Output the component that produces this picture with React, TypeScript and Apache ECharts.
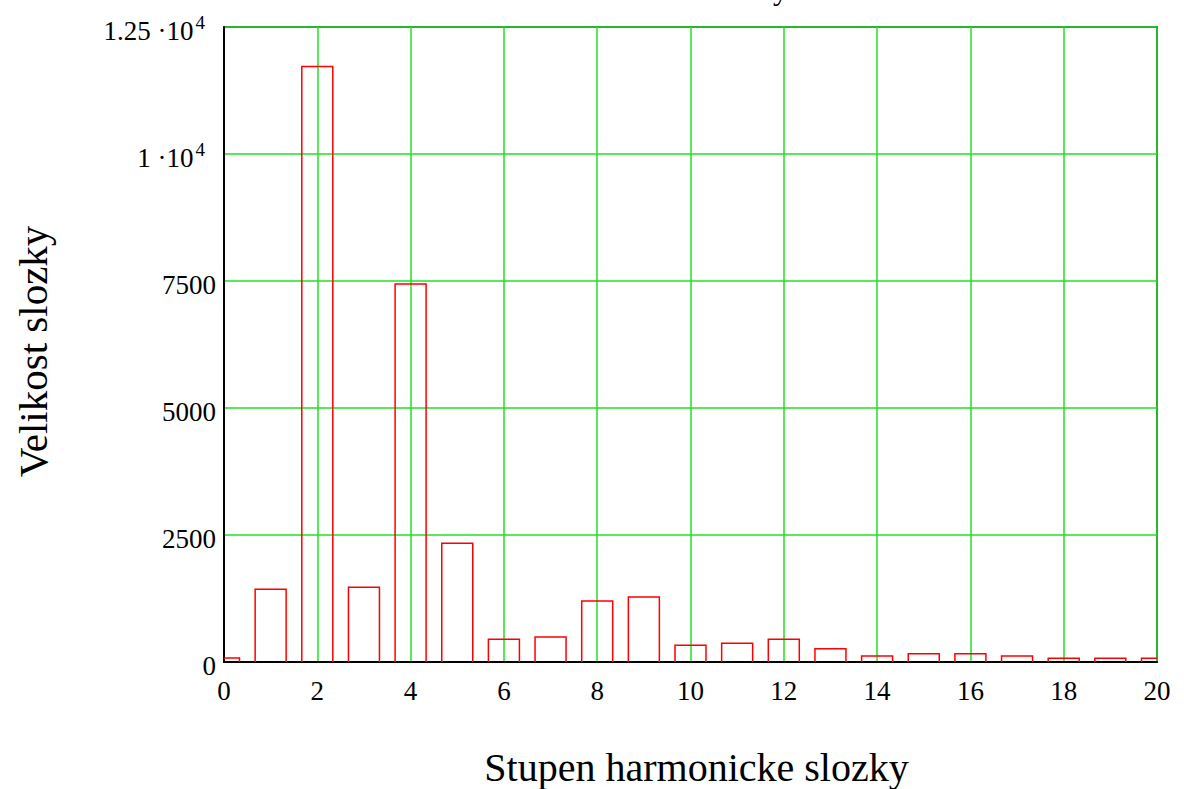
import React, { useEffect, useRef } from "react";
import * as echarts from "echarts";

const harmonics: number[] = [0, 1, 2, 3, 4, 5, 6, 7, 8, 9, 10, 11, 12, 13, 14, 15, 16, 17, 18, 19, 20];
const magnitudes: number[] = [80, 1430, 11720, 1470, 7440, 2340, 450, 490, 1200, 1280, 330, 370, 450, 262, 118, 163, 163, 118, 73, 73, 73];
const yTicks: number[] = [0, 2500, 5000, 7500, 10000, 12500];

const FONT = "'Liberation Serif', 'DejaVu Serif', serif";
const BAR_PX = 31;

export default function App() {
  const ref = useRef<HTMLDivElement>(null);
  useEffect(() => {
    if (!ref.current) return;
    const chart = echarts.init(ref.current, null, { renderer: "svg" });
    const data = harmonics.map((h, i) => [h, magnitudes[i]]);
    chart.setOption({
      animation: false,
      backgroundColor: "#ffffff",
      grid: {
        left: 224,
        right: 27,
        top: 27,
        bottom: 127,
        containLabel: false,
        outerBoundsMode: "none",
        show: true,
        borderColor: "#000000",
        borderWidth: 1.5,
        backgroundColor: "transparent",
      },
      graphic: [
        {
          type: "text",
          right: 1184 - 788,
          top: -26,
          style: {
            text: "Harmonicke slozky",
            font: `30px ${FONT}`,
            fill: "#000000",
          },
        },
      ],
      xAxis: {
        type: "value",
        min: 0,
        max: 20,
        interval: 2,
        name: "Stupen harmonicke slozky",
        nameLocation: "middle",
        nameGap: 85,
        nameTextStyle: { fontFamily: FONT, fontSize: 40, color: "#000000", padding: [0, 0, 0, 12] },
        axisLine: { show: true, lineStyle: { color: "#000000", width: 2 } },
        axisTick: { show: false },
        axisLabel: { fontFamily: FONT, fontSize: 27, color: "#000000", margin: 15 },
        splitLine: { show: true, lineStyle: { color: "#22e022", width: 1.5 } },
      },
      yAxis: {
        type: "value",
        min: 0,
        max: 12500,
        interval: 2500,
        name: "Velikost slozky",
        nameLocation: "middle",
        nameGap: 171,
        nameRotate: 90,
        nameTextStyle: { fontFamily: FONT, fontSize: 41, color: "#000000", padding: [0, 14, 0, 0] },
        axisLine: { show: true, lineStyle: { color: "#000000", width: 2 } },
        axisTick: { show: false },
        axisLabel: {
          fontFamily: FONT,
          fontSize: 27,
          color: "#000000",
          margin: 8,
          padding: [7, 0, 0, 0],
          formatter: (v: number) => {
            if (!yTicks.includes(v)) return "";
            if (v === 10000) return "1 ·10{sup|4}{gap|}";
            if (v === 12500) return "1.25 ·10{sup|4}{gap|}";
            return String(v);
          },
          rich: {
            sup: { fontFamily: FONT, fontSize: 19, color: "#000000", verticalAlign: "bottom", padding: [0, 0, 17, 2] },
            gap: { width: 11 },
          },
        },
        splitLine: { show: true, lineStyle: { color: "#22e022", width: 1.5 } },
      },
      series: [
        {
          type: "custom",
          data,
          clip: true,
          renderItem: (params: any, api: any) => {
            const x = api.value(0);
            const y = api.value(1);
            const base = api.coord([x, 0]);
            const top = api.coord([x, y]);
            const cs = params.coordSys;
            const l = base[0] - BAR_PX / 2;
            const r = base[0] + BAR_PX / 2;
            const cl = Math.max(l, cs.x);
            const cr = Math.min(r, cs.x + cs.width);
            const pts: number[][] = [];
            if (l >= cs.x) pts.push([cl, base[1]]);
            pts.push([cl, top[1]]);
            pts.push([cr, top[1]]);
            if (r <= cs.x + cs.width) pts.push([cr, base[1]]);
            return {
              type: "polyline",
              shape: { points: pts },
              style: { fill: "none", stroke: "#ff0000", lineWidth: 1.5 },
            };
          },
        },
      ],
    });
    return () => chart.dispose();
  }, []);
  return (
    <div
      ref={ref}
      style={{ position: "fixed", left: 0, top: 0, width: 1184, height: 789 }}
    />
  );
}
